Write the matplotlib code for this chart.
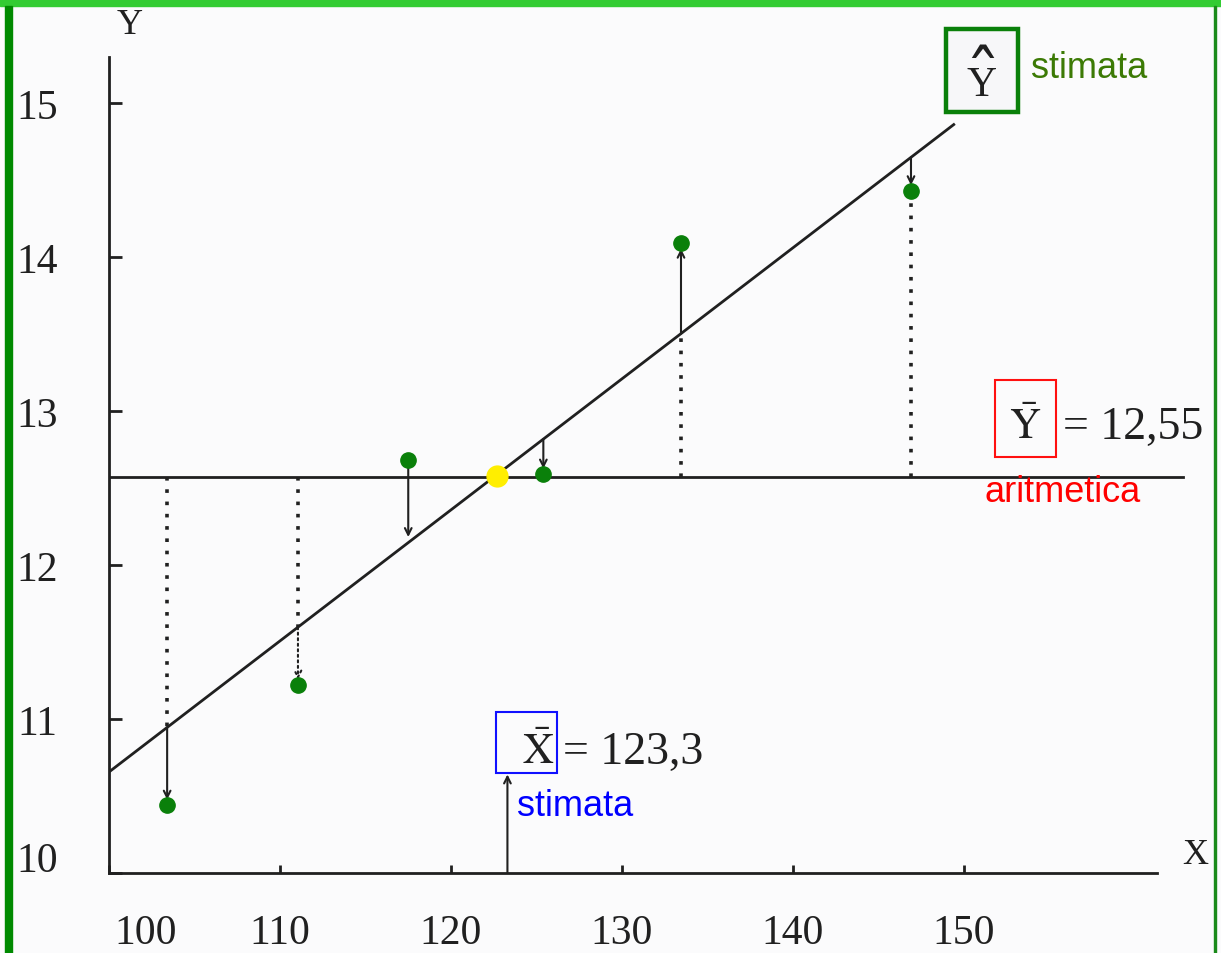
import matplotlib.pyplot as plt
import matplotlib.transforms as mtransforms
from matplotlib.patches import Rectangle
import numpy as np

plt.rcParams['mathtext.fontset'] = 'stix'

# observed points
x_obs = [103.4, 111.05, 117.5, 125.4, 133.45, 146.9]
y_obs = [10.44, 11.22, 12.68, 12.59, 14.09, 14.43]

# regression line y = a + b*x
reg_a = 2.146
reg_b = 0.0851
reg_x = [100, 149.4]

# means
x_mean = 123.3
y_mean_line = 12.57
center_pt = (122.7, 12.58)
y_mean_txt = '12,55'
x_mean_txt = '123,3'

resid_style = ['-', ':', '-', '-', '-', '-']
head_on_line = [False, False, True, False, False, False]

xticks = [100, 110, 120, 130, 140, 150]
yticks = [10, 11, 12, 13, 14, 15]

ink = '#202020'
serif = 'Liberation Serif'

fig = plt.figure(figsize=(12.21, 9.54), dpi=100)
fig.patch.set_facecolor('#fbfbfc')

# frame decorations (green borders)
fig.patches.append(Rectangle((0, 1 - 7 / 954), 1, 7 / 954, transform=fig.transFigure,
                             color='#33cc33', zorder=0))
fig.patches.append(Rectangle((5 / 1221, 0), 7 / 1221, 1 - 7 / 954, transform=fig.transFigure,
                             color='#008a00', zorder=0))
fig.patches.append(Rectangle((1214 / 1221, 0), 2 / 1221, 1 - 7 / 954, transform=fig.transFigure,
                             color='#1a8a1a', zorder=0))

ax = fig.add_axes([109 / 1221, 1 - 874 / 954, 64 * 17.1 / 1221, 5.35 * 154 / 954])
ax.set_facecolor('none')
ax.set_xlim(100, 164)
ax.set_ylim(10, 15.35)

for s in ['top', 'right']:
    ax.spines[s].set_visible(False)
ax.spines['left'].set_bounds(10, 15.30)
ax.spines['bottom'].set_bounds(100, 161.3)
for s in ['left', 'bottom']:
    ax.spines[s].set_linewidth(2)
    ax.spines[s].set_color(ink)

ax.set_xticks(xticks)
ax.set_xticklabels([str(t) for t in xticks])
ax.set_yticks(yticks)
ax.set_yticklabels([str(t) for t in yticks])
ax.tick_params(axis='y', direction='in', length=9, width=2, color=ink, pad=37,
               labelsize=30, labelcolor=ink)
ax.tick_params(axis='x', direction='in', length=6, width=2, color=ink, pad=29,
               labelsize=30, labelcolor=ink)
for lab in ax.get_xticklabels() + ax.get_yticklabels():
    lab.set_fontfamily(serif)
# scan quirks: first labels shifted away from the corner
xl0 = ax.get_xticklabels()[0]
xl0.set_transform(xl0.get_transform() + mtransforms.ScaledTranslation(0.37, 0, fig.dpi_scale_trans))
yl0 = ax.get_yticklabels()[0]
yl0.set_transform(yl0.get_transform() + mtransforms.ScaledTranslation(0, 0.17, fig.dpi_scale_trans))

# mean of Y line
ax.plot([100, 162.8], [y_mean_line, y_mean_line], color=ink, lw=2, zorder=2)

# regression line
rx = np.array(reg_x)
ax.plot(rx, reg_a + reg_b * rx, color=ink, lw=2, zorder=2)

# residuals and deviations
for x, y, ls, head in zip(x_obs, y_obs, resid_style, head_on_line):
    yr = reg_a + reg_b * x
    lo, hi = min(yr, y), max(yr, y)
    if not (lo < y_mean_line < hi):
        near = yr if abs(yr - y_mean_line) < abs(y - y_mean_line) else y
        ax.plot([x, x], [y_mean_line, near], color=ink, lw=2.6, ls=(0, (1, 2.4)), zorder=2)
    start, end = (y, yr) if head else (yr, y)
    ax.annotate('', xy=(x, end), xytext=(x, start),
                arrowprops=dict(arrowstyle='->', color=ink, lw=1.5, ls=ls,
                                mutation_scale=12, shrinkA=0, shrinkB=4),
                zorder=3)

# mean of X arrow
ax.annotate('', xy=(x_mean, 10.64), xytext=(x_mean, 10),
            arrowprops=dict(arrowstyle='->', color=ink, lw=1.5, mutation_scale=12,
                            shrinkA=0, shrinkB=0))

ax.plot(x_obs, y_obs, 'o', color='#0a800a', ms=11, zorder=4)
ax.plot([center_pt[0]], [center_pt[1]], 'o', color='#ffee00', ms=15, zorder=5)

# axis names
ax.text(101.2, 15.51, 'Y', fontsize=26, family=serif, color=ink, ha='center', va='center',
        clip_on=False)
ax.text(163.5, 10.12, 'X', fontsize=26, family=serif, color=ink, ha='center', va='center',
        clip_on=False)

# Y hat box
ax.add_patch(Rectangle((148.95, 14.94), 4.21, 0.54, fill=True, facecolor='#f7f7f9',
                       edgecolor='#0a800a', lw=3.2, clip_on=False, zorder=6))
ax.text(151.05, 15.12, 'Y', fontsize=30, family=serif, color=ink,
        ha='center', va='center', clip_on=False, zorder=7)
ax.text(151.05, 15.14, '\u02c6', fontsize=52, family='DejaVu Serif', color=ink,
        ha='center', va='center', clip_on=False, zorder=7)
ax.text(153.9, 15.23, 'stimata', fontsize=26, family='Liberation Sans', color='#3c7a05',
        ha='left', va='center', clip_on=False)

# Y mean box
ax.add_patch(Rectangle((151.8, 12.70), 3.6, 0.50, fill=False, edgecolor='#ff1010',
                       lw=1.5, clip_on=False, zorder=6))
ax.text(153.6, 12.90, r'$\bar{\mathrm{Y}}$', fontsize=31, color=ink,
        ha='center', va='center', clip_on=False)
ax.text(155.8, 12.90, '= ' + y_mean_txt, fontsize=33, family=serif, color=ink,
        ha='left', va='center', clip_on=False)
ax.text(151.2, 12.48, 'aritmetica', fontsize=26, family='Liberation Sans', color='#ff0000',
        ha='left', va='center', clip_on=False)

# X mean box
ax.add_patch(Rectangle((122.63, 10.65), 3.57, 0.395, fill=False, edgecolor='#1010ff',
                       lw=1.5, clip_on=False, zorder=6))
ax.text(125.1, 10.79, r'$\bar{\mathrm{X}}$', fontsize=31, color=ink,
        ha='center', va='center', clip_on=False)
ax.text(126.55, 10.79, '= ' + x_mean_txt, fontsize=33, family=serif, color=ink,
        ha='left', va='center', clip_on=False)
ax.text(123.86, 10.44, 'stimata', fontsize=26, family='Liberation Sans', color='#0000ff',
        ha='left', va='center', clip_on=False)

fig.savefig('out.png', dpi=100, facecolor=fig.get_facecolor())
